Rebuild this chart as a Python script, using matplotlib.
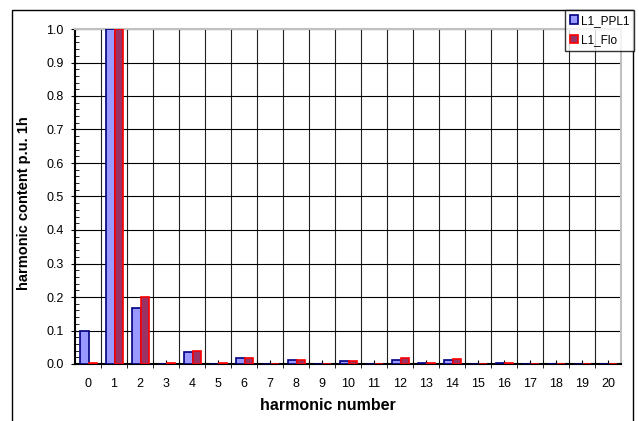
import matplotlib
matplotlib.use("Agg")
import matplotlib.pyplot as plt
import numpy as np
from matplotlib.patches import Rectangle
from matplotlib.ticker import MultipleLocator, FixedLocator

plt.rcParams['font.family'] = ['Liberation Sans', 'DejaVu Sans']

harmonics = list(range(21))
ppl1 = [0.100, 1.0, 0.168, 0.001, 0.037, 0.001, 0.019, 0.0, 0.012, 0.0, 0.010,
        0.0, 0.012, 0.004, 0.012, 0.0, 0.003, 0.0, 0.0, 0.0, 0.0]
flo = [0.003, 1.0, 0.200, 0.003, 0.040, 0.004, 0.019, 0.0, 0.012, 0.0, 0.010,
       0.0, 0.017, 0.004, 0.016, 0.0, 0.004, 0.0, 0.0, 0.0, 0.0]

fig = plt.figure(figsize=(6.39, 4.21), dpi=100)
W, H = 639, 421
ax = fig.add_axes([75 / W, 1 - 364 / H, (621 - 75) / W, (364 - 29) / H])

x = np.arange(len(harmonics))
w = 0.33
ax.bar(x - w / 2 + 0.02, ppl1, w, color='#9999ff', edgecolor='#000080', lw=1.2,
       label='L1_PPL1', zorder=3)
ax.bar(x + w / 2 + 0.02, flo, w, color='#993366', edgecolor='#ff0000', lw=1.2,
       label='L1_Flo', zorder=3)

ax.set_xlim(-0.5, 20.5)
ax.set_ylim(0, 1.0)
ax.set_xticks(x)
ax.set_xticklabels([str(h) for h in harmonics])
ax.xaxis.set_major_locator(FixedLocator(x))
ax.xaxis.set_minor_locator(FixedLocator(x[:-1] + 0.5))
ax.tick_params(axis='x', which='major', length=3, direction='in', labelsize=9,
               pad=10)
ax.tick_params(axis='x', which='minor', length=6, direction='inout')
ax.yaxis.set_major_locator(MultipleLocator(0.1))
ax.yaxis.set_minor_locator(MultipleLocator(0.02))
ax.set_yticklabels([f'{v:.1f}' for v in ax.get_yticks()])
ax.tick_params(axis='y', which='major', length=6, direction='inout', labelsize=9,
               pad=5)
ax.tick_params(axis='y', which='minor', length=3, direction='in')

ax.grid(True, axis='y', which='major', color='black', lw=0.8, zorder=1)
ax.grid(True, axis='x', which='minor', color='#222222', lw=0.8, zorder=1)

for s in ['top', 'right']:
    ax.spines[s].set_color('#c0c0c0')
    ax.spines[s].set_linewidth(1.5)
for s in ['left', 'bottom']:
    ax.spines[s].set_linewidth(1.5)

ax.set_xlabel('harmonic number', fontsize=11.5, fontweight='bold')
ax.xaxis.set_label_coords(0.463, (364 - 405) / 335, transform=ax.transAxes)
ax.xaxis.label.set_va('center')
ax.set_ylabel('harmonic content p.u. 1h', fontsize=10.5, fontweight='bold')
ax.yaxis.set_label_coords((24 - 75) / 546, (364 - 203) / 335,
                          transform=ax.transAxes)
ax.yaxis.label.set_va('center')

fig.patches.append(Rectangle((12 / W, -0.05), (633 - 12) / W, 1.05 - 10 / H,
                             transform=fig.transFigure, fill=False,
                             edgecolor='black', lw=1.0))

leg = fig.legend(loc='upper right', bbox_to_anchor=(634 / W, 1 - 10 / H),
                 fontsize=8.5, frameon=True, fancybox=False, handlelength=0.7,
                 handleheight=0.7, handletextpad=0.2, borderpad=0.4,
                 labelspacing=0.6, borderaxespad=0)
leg.get_frame().set_edgecolor('black')
leg.get_frame().set_linewidth(1.0)

fig.savefig('out.png', dpi=100)
